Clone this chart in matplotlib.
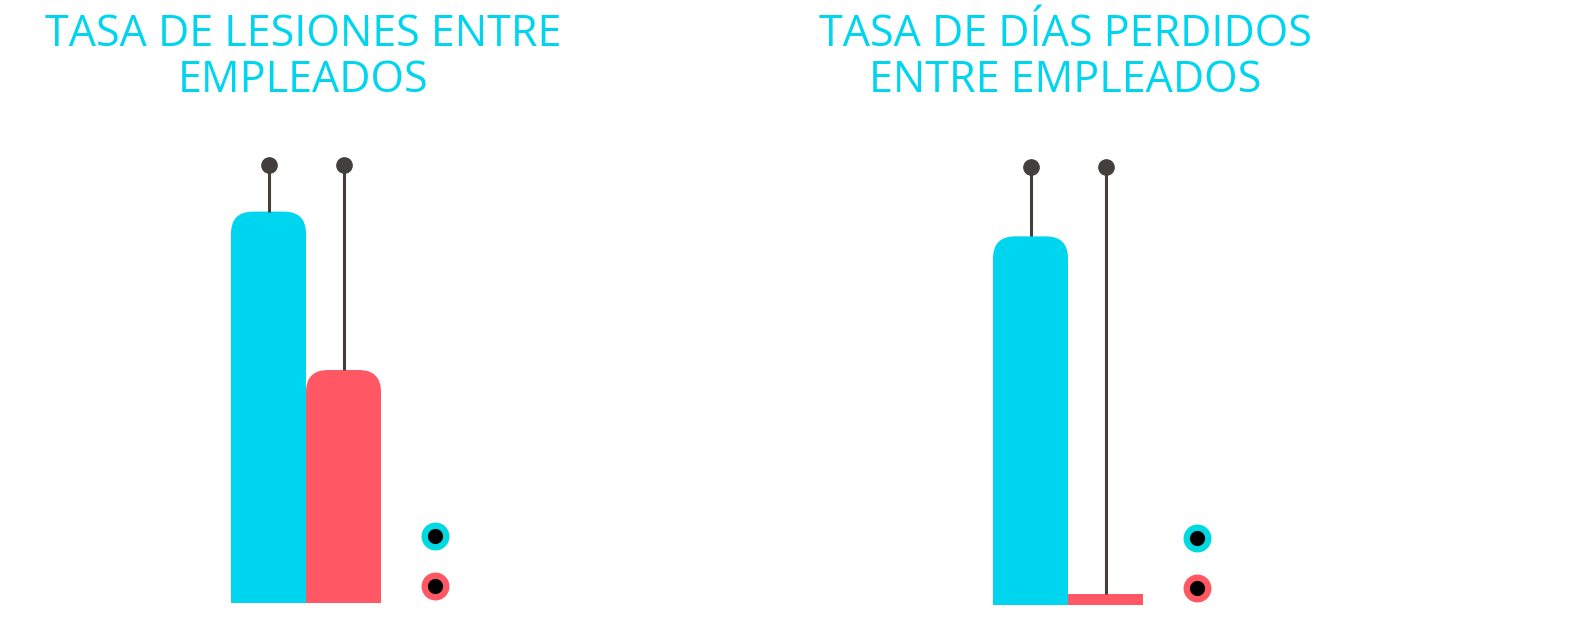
import matplotlib.pyplot as plt
from matplotlib.patches import FancyBboxPatch

# data
titles = ['TASA DE LESIONES ENTRE\nEMPLEADOS', 'TASA DE DÍAS PERDIDOS\nENTRE EMPLEADOS']
injury_rate = [0.84, 0.50]
injury_top = [0.94, 0.94]
days_lost_rate = [10.1, 0.3]
days_lost_top = [12.0, 12.0]

bar_colors = ['#00d5f0', '#ff5864']
ring_colors = ['#00d9e0', '#ff5864']
line_color = '#423f3d'
title_color = '#00d5f0'

W, H = 1569, 627
fig = plt.figure(figsize=(W / 100, H / 100), dpi=100)


def panel(left_px, base_px, vals, tops, ymax, title, title_x):
    # axes laid out in pixels: 75 px per bar, bars start at x=0
    x0 = left_px - 3 * 75
    ax = fig.add_axes([x0 / W, (H - base_px) / H, 750 / W, 466 / H])
    ax.set_xlim(-3, 7)
    ax.set_ylim(0, ymax)
    ax.axis('off')

    bars = ax.bar([0, 1], vals, width=1, align='edge', color=bar_colors)
    # swap the plain bars for ones with rounded tops
    r_x = 22 / 75
    r_y = 22 / 466 * ymax
    for b, c in zip(bars, bar_colors):
        x, w, h = b.get_x(), b.get_width(), b.get_height()
        b.remove()
        if h > 2 * r_y:
            p = FancyBboxPatch((x, -r_y), w, h + r_y,
                               boxstyle='round,pad=0,rounding_size=%f' % r_x,
                               mutation_aspect=r_y / r_x,
                               fc=c, ec='none', clip_on=True)
        else:
            p = plt.Rectangle((x, 0), w, h, fc=c, ec='none')
        ax.add_patch(p)

    for i, (v, t) in enumerate(zip(vals, tops)):
        xc = i + 0.5
        ax.plot([xc, xc], [v, t], color=line_color, lw=2.2, zorder=1,
                solid_capstyle='butt')
        ax.plot(xc, t, 'o', color=line_color, ms=11, zorder=3)

    # legend dots
    for k, c in enumerate(ring_colors):
        ax.plot(5.72 / 10, (67 - 50 * k) / 466, 'o', transform=ax.transAxes,
                ms=15.5, mfc='black', mec=c, mew=4.6, clip_on=False)

    fig.text(title_x / W, 1 - 12 / H, title, ha='center', va='top',
             color=title_color, fontsize=31, family='Open Sans',
             linespacing=1.05)
    return ax


panel(231, 603, injury_rate, injury_top, 0.94 * 466 / 438, titles[0], 303)
panel(993, 605, days_lost_rate, days_lost_top, 12.0 * 466 / 438, titles[1], 1065)

fig.savefig('out.png', dpi=100)
